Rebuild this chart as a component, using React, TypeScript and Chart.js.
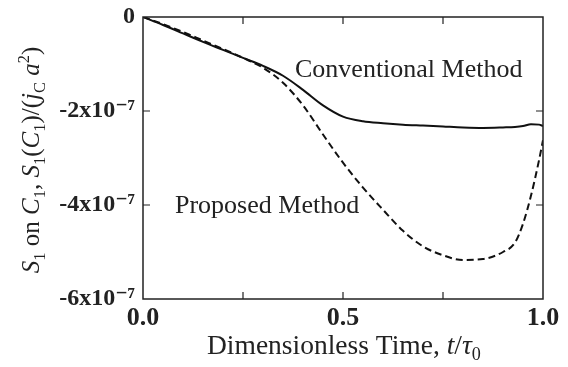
import React, { useEffect, useRef } from "react";
import { Chart, registerables } from "chart.js";

Chart.register(...registerables);

// ---- data (values in units of 1e-7) ----
const time = [0, 0.05, 0.1, 0.15, 0.2, 0.25, 0.3, 0.35, 0.4, 0.45, 0.5, 0.55, 0.6, 0.65, 0.7, 0.75, 0.8, 0.85, 0.9, 0.93, 0.95, 0.97, 0.99, 1.0];
const conventional = [0, -0.17, -0.35, -0.53, -0.7, -0.87, -1.04, -1.25, -1.55, -1.88, -2.12, -2.22, -2.26, -2.29, -2.31, -2.33, -2.35, -2.36, -2.35, -2.34, -2.32, -2.28, -2.29, -2.32];
const proposed = [0, -0.15, -0.32, -0.5, -0.68, -0.87, -1.08, -1.4, -1.88, -2.5, -3.1, -3.63, -4.1, -4.55, -4.88, -5.07, -5.17, -5.15, -5.0, -4.8, -4.4, -3.8, -3.05, -2.62];
const SCALE = 1e-7;

const xTickValues = [0, 0.5, 1.0];
const xTickLabels = ["0.0", "0.5", "1.0"];
const yTickValues = [0, -2, -4, -6];
const yTickLabels = ["0", "-2x10\u207B\u2077", "-4x10\u207B\u2077", "-6x10\u207B\u2077"];

const labelConventional = "Conventional Method";
const labelProposed = "Proposed Method";
const annotConventional = { t: 0.38, v: -1.277 };
const annotProposed = { t: 0.08, v: -4.17 };

type Run = { t: string; it?: boolean; sub?: boolean; sup?: boolean };
const yTitleRuns: Run[] = [
  { t: "S", it: true }, { t: "1", sub: true }, { t: " on " },
  { t: "C", it: true }, { t: "1", sub: true }, { t: ", " },
  { t: "S", it: true }, { t: "1", sub: true }, { t: "(" },
  { t: "C", it: true }, { t: "1", sub: true }, { t: ")/(" },
  { t: "j", it: true }, { t: "C", sub: true }, { t: " " },
  { t: "a", it: true }, { t: "2", sup: true }, { t: ")" },
];
const xTitleRuns: Run[] = [
  { t: "Dimensionless Time, " }, { t: "t", it: true }, { t: "/" },
  { t: "\u03C4", it: true }, { t: "0", sub: true },
];

const FAMILY = "'Liberation Serif', 'DejaVu Serif', serif";

function runFont(r: Run, size: number) {
  const s = r.sub || r.sup ? size * 0.66 : size;
  return `${r.it ? "italic " : ""}${s}px ${FAMILY}`;
}
function measureRuns(ctx: CanvasRenderingContext2D, runs: Run[], size: number) {
  let w = 0;
  for (const r of runs) {
    ctx.font = runFont(r, size);
    w += ctx.measureText(r.t).width;
  }
  return w;
}
function drawRuns(ctx: CanvasRenderingContext2D, runs: Run[], size: number, x: number, y: number) {
  let cx = x;
  ctx.textBaseline = "alphabetic";
  ctx.textAlign = "left";
  for (const r of runs) {
    ctx.font = runFont(r, size);
    const dy = r.sub ? size * 0.22 : r.sup ? -size * 0.42 : 0;
    ctx.fillText(r.t, cx, y + dy);
    cx += ctx.measureText(r.t).width;
  }
}

const framePlugin = {
  id: "framePlugin",
  afterDraw(chart: any) {
    const { ctx, chartArea: a, scales } = chart;
    const xs = scales.x;
    const ys = scales.y;
    ctx.save();
    ctx.strokeStyle = "#222";
    ctx.lineWidth = 1.5;
    ctx.strokeRect(a.left, a.top, a.right - a.left, a.bottom - a.top);
    // inward ticks
    ctx.lineWidth = 1.2;
    const tl = 7;
    for (const v of [0.25, 0.5, 0.75]) {
      const px = xs.getPixelForValue(v);
      ctx.beginPath();
      ctx.moveTo(px, a.bottom); ctx.lineTo(px, a.bottom - tl);
      ctx.moveTo(px, a.top); ctx.lineTo(px, a.top + tl);
      ctx.stroke();
    }
    for (const v of [-2, -4]) {
      const py = ys.getPixelForValue(v * SCALE);
      ctx.beginPath();
      ctx.moveTo(a.left, py); ctx.lineTo(a.left + tl, py);
      ctx.moveTo(a.right, py); ctx.lineTo(a.right - tl, py);
      ctx.stroke();
    }
    // annotations
    ctx.fillStyle = "#222";
    ctx.font = `26px ${FAMILY}`;
    ctx.textAlign = "left";
    ctx.textBaseline = "alphabetic";
    ctx.fillText(labelConventional, xs.getPixelForValue(annotConventional.t), ys.getPixelForValue(annotConventional.v * SCALE));
    ctx.fillText(labelProposed, xs.getPixelForValue(annotProposed.t), ys.getPixelForValue(annotProposed.v * SCALE));
    // x title
    const xSize = 27.5;
    drawRuns(ctx, xTitleRuns, xSize, 207, 354);
    // y title
    const ySize = 25;
    const yw = measureRuns(ctx, yTitleRuns, ySize);
    ctx.translate(39, 160);
    ctx.rotate(-Math.PI / 2);
    drawRuns(ctx, yTitleRuns, ySize, -yw / 2, 0);
    ctx.restore();
  },
};

export default function App() {
  const ref = useRef<HTMLCanvasElement>(null);
  useEffect(() => {
    document.body.style.margin = "0";
    const canvas = ref.current!;
    const chart = new Chart(canvas, {
      type: "line",
      data: {
        datasets: [
          {
            label: labelConventional,
            data: time.map((t, i) => ({ x: t, y: conventional[i] * SCALE })),
            borderColor: "#111",
            borderWidth: 2,
            pointRadius: 0,
            cubicInterpolationMode: "monotone",
            fill: false,
          },
          {
            label: labelProposed,
            data: time.map((t, i) => ({ x: t, y: proposed[i] * SCALE })),
            borderColor: "#111",
            borderWidth: 2,
            borderDash: [7, 4],
            pointRadius: 0,
            cubicInterpolationMode: "monotone",
            fill: false,
          },
        ],
      },
      options: {
        responsive: false,
        animation: false,
        devicePixelRatio: 1,
        layout: { padding: { top: 17, right: 25, left: 0, bottom: 0 } },
        plugins: { legend: { display: false }, tooltip: { enabled: false }, title: { display: false } },
        scales: {
          x: {
            type: "linear",
            min: 0,
            max: 1,
            grid: { display: false, drawTicks: false },
            border: { display: false },
            afterFit: (s: any) => { s.height = 68; s.paddingLeft = 0; s.paddingRight = 0; },
            afterBuildTicks: (s: any) => { s.ticks = xTickValues.map((v) => ({ value: v })); },
            ticks: {
              autoSkip: false,
              maxRotation: 0,
              padding: 4,
              color: "#222",
              font: { family: FAMILY, size: 26, weight: "bold" },
              callback: (v: any) => {
                const i = xTickValues.findIndex((x) => Math.abs(x - Number(v)) < 1e-9);
                return i >= 0 ? xTickLabels[i] : "";
              },
            },
          },
          y: {
            type: "linear",
            min: -6 * SCALE,
            max: 0,
            grid: { display: false, drawTicks: false },
            border: { display: false },
            afterFit: (s: any) => { s.width = 143; s.paddingTop = 0; s.paddingBottom = 0; },
            afterBuildTicks: (s: any) => { s.ticks = yTickValues.map((v) => ({ value: v * SCALE })); },
            ticks: {
              autoSkip: false,
              padding: 8,
              color: "#222",
              font: { family: FAMILY, size: 24, weight: "bold" },
              callback: (v: any) => {
                const i = yTickValues.findIndex((y) => Math.abs(y * SCALE - Number(v)) < 1e-12);
                return i >= 0 ? yTickLabels[i] : "";
              },
            },
          },
        },
      },
      plugins: [framePlugin],
    } as any);
    return () => chart.destroy();
  }, []);
  return (
    <div style={{ position: "absolute", left: 0, top: 0, width: 568, height: 367, background: "#fff" }}>
      <canvas ref={ref} width={568} height={367} style={{ width: 568, height: 367 }} />
    </div>
  );
}
